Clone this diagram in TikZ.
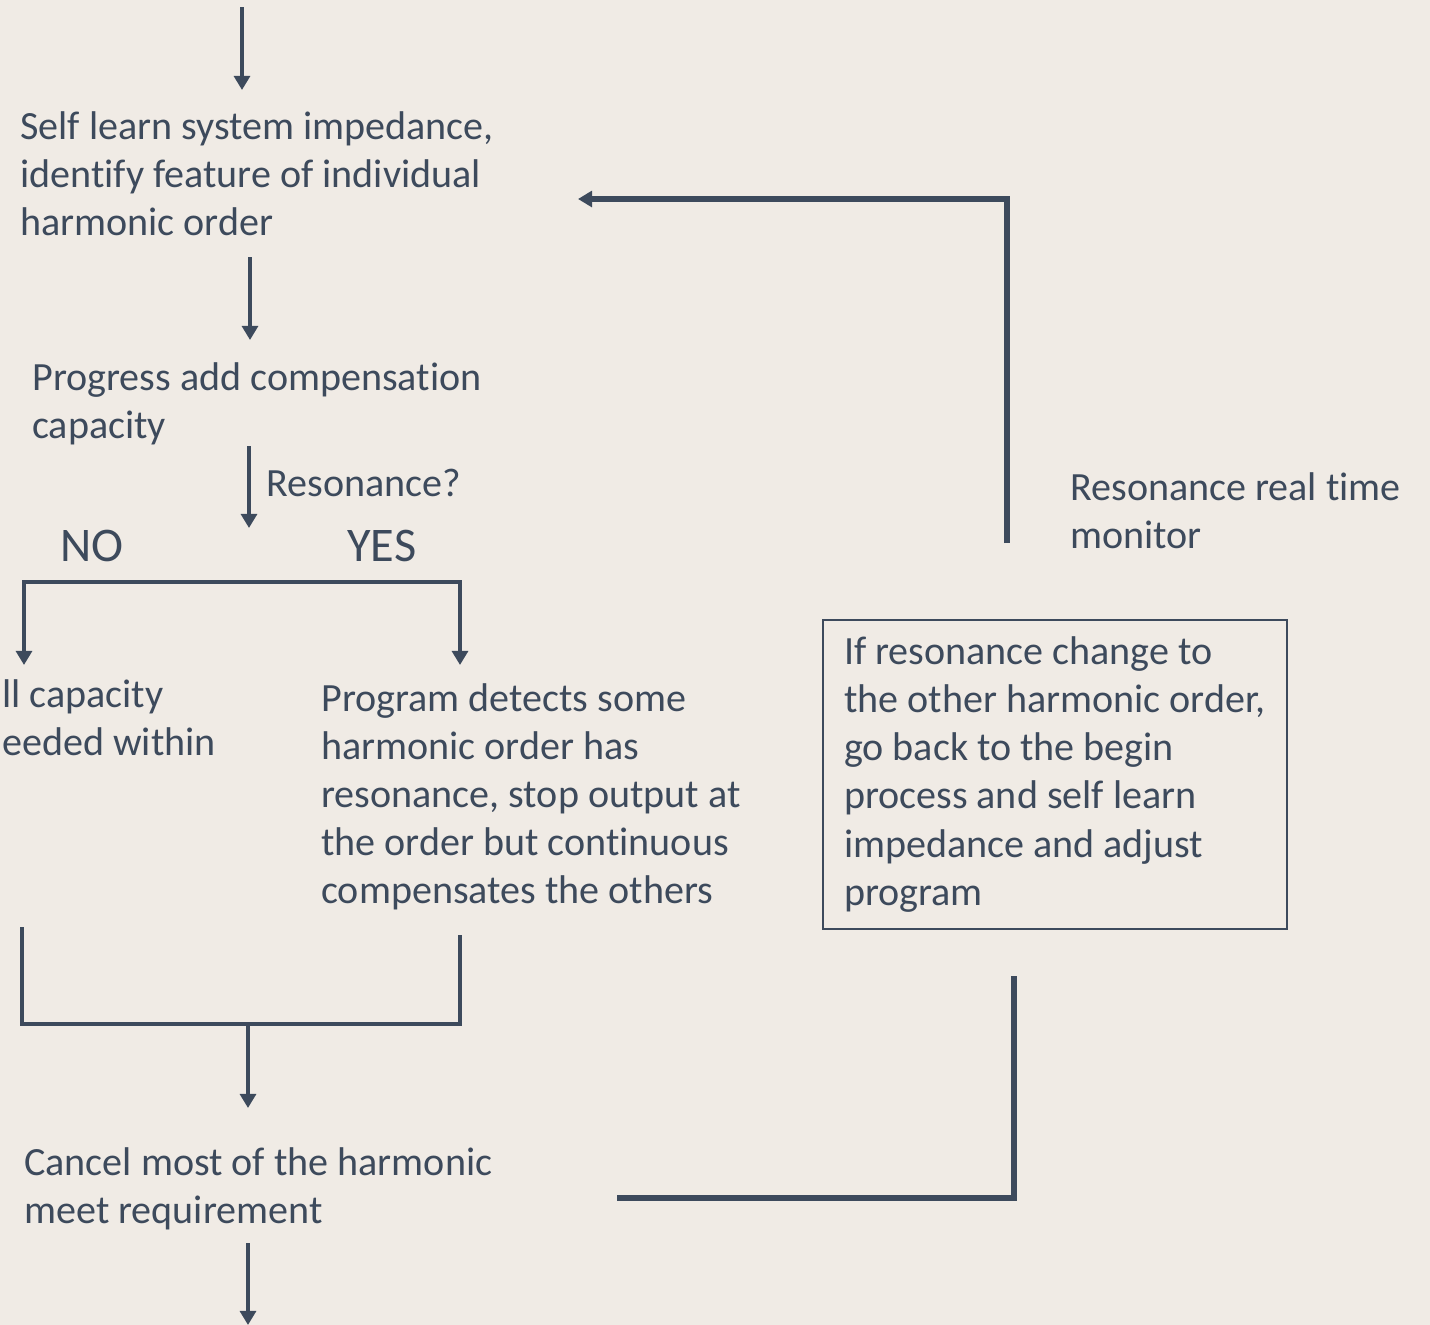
\documentclass[tikz,border=0pt]{standalone}
\usepackage{fontspec}
\setmainfont{Carlito}[Ligatures=NoCommon]
\usetikzlibrary{arrows.meta,positioning}
\definecolor{slate}{HTML}{3D4A5C}
\definecolor{paper}{HTML}{F0EBE5}
\tikzset{
  >={Triangle[width=9pt,length=8pt]},
  txt/.style={anchor=west,align=left,inner sep=0pt,text=slate,font=\fontsize{22.8}{27.4}\selectfont},
  big/.style={txt,font=\fontsize{27.5}{32}\selectfont},
  flow/.style={draw=slate,line width=2.4pt,->},
  link/.style={draw=slate,line width=2.8pt},
  back/.style={draw=slate,line width=3.3pt},
}
\begin{document}
\begin{tikzpicture}[x=0.02cm,y=-0.02cm]
%paper
\fill[paper] (0,0) rectangle (1430,1325);
\useasboundingbox (0,0) rectangle (1430,1325);

%steps
\node[txt] (learn) at (20,174) {Self learn system impedance,\\identify feature of individual\\harmonic order};
\node[txt] (comp) at (32,404) {Progress add compensation\\capacity};
\node[txt] (reson) at (266,483) {Resonance?};
\node[big] (no) at (60,546) {NO};
\node[big] (yes) at (347,546) {YES};
\node[txt] (install) at (2,718) {ll capacity\\eeded within};
\node[txt] (detect) at (321,797) {Program detects some\\harmonic order has\\resonance, stop output at\\the order but continuous\\compensates the others};
\node[txt] (cancel) at (24,1189) {Cancel most of the harmonic\\meet requirement};
\node[txt] (monitor) at (1070,511) {Resonance real time\\monitor};
\node[txt,anchor=north west,draw=slate,line width=1.1pt,inner xsep=10pt,
  minimum width=264pt,minimum height=175.7pt] (change) at (822,619)
  {If resonance change to\\the other harmonic order,\\go back to the begin\\process and self learn\\impedance and adjust\\program};

%arrow points
\coordinate (in) at (242,7);
\coordinate (in1) at (242,90);
\coordinate (a1) at (250,257);
\coordinate (a2) at (250,340);
\coordinate (b1) at (249,446);
\coordinate (b2) at (249,528);
\coordinate (noend) at (24,665);
\coordinate (yesend) at (460,665);
\coordinate (split) at (460,582);
\coordinate (m1) at (22,927);
\coordinate (m2) at (460,935);
\coordinate (join) at (248,1024);
\coordinate (j2) at (248,1108);
\coordinate (o1) at (248,1243);
\coordinate (out) at (248,1325);
\coordinate (f1) at (617,1198);
\coordinate (f2) at (1014,976);
\coordinate (r1) at (1007,543);
\coordinate (r2) at (578,199);

%flow
\draw[flow] (in) -- (in1);
\draw[flow] (a1) -- (a2);
\draw[flow] (b1) -- (b2);
\draw[link,<->] (noend) |- (split) -- (yesend);
\draw[link] (m1) |- (join -| m2) -- (m2);
\draw[flow] (join) -- (j2);
\draw[flow] (o1) -- (out);

%feedback
\draw[back] (f1) -| (f2);
\draw[back,->] (r1) |- (r2);
\end{tikzpicture}
\end{document}
